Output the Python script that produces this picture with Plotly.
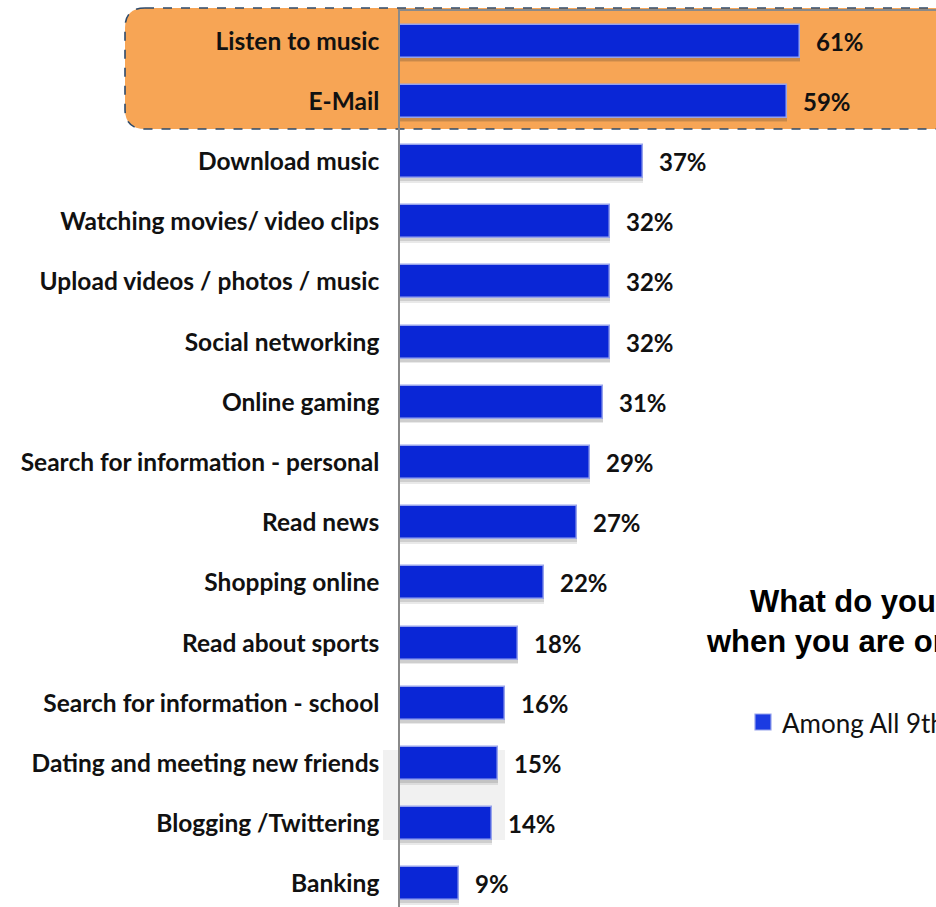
import plotly.graph_objects as go

# Survey results: share of respondents doing each activity online
activities = [
    "Listen to music",
    "E-Mail",
    "Download music",
    "Watching movies/ video clips",
    "Upload videos / photos / music",
    "Social networking",
    "Online gaming",
    "Search for information - personal",
    "Read news",
    "Shopping online",
    "Read about sports",
    "Search for information - school",
    "Dating and meeting new friends",
    "Blogging /Twittering",
    "Banking",
]
shares = [61, 59, 37, 32, 32, 32, 31, 29, 27, 22, 18, 16, 15, 14, 9]
series_name = "Among All 9th Graders"
title_lines = ["What do you do", "when you are online?"]

W, H = 936, 907
ML, MT = 400, 11
PW, PH = W - ML, H - MT           # plot area in pixels
PX_PER_PCT = 6.56
ROW_PX = 60.2
BAR_W = 0.55
BAR_COLOR = "#0A26D6"
BAR_EDGE = "#97A3EC"

rows = list(range(len(activities)))


def px(x):  # pixel x -> paper x
    return (x - ML) / PW


def py(y):  # pixel y -> paper y
    return (H - y) / PH


fig = go.Figure()

# soft drop shadow under each bar
for dy, alpha in [(0.075, 0.10), (0.05, 0.14)]:
    fig.add_trace(go.Bar(
        y=rows, x=shares, orientation="h",
        width=BAR_W, offset=-BAR_W / 2 + dy,
        marker=dict(color=f"rgba(40,40,40,{alpha})", line=dict(width=0)),
        showlegend=False, hoverinfo="skip",
    ))
fig.add_trace(go.Bar(
    y=rows, x=shares, orientation="h",
    width=BAR_W, offset=-BAR_W / 2,
    name=series_name, showlegend=False,
    marker=dict(color=BAR_COLOR, line=dict(color=BAR_EDGE, width=1.5)),
    hovertemplate="%{x}%<extra></extra>",
))

annotations = []
for r, v in zip(rows, shares):
    annotations.append(dict(
        x=v, y=r, xref="x", yref="y", text=f"{v}%", showarrow=False,
        xanchor="left", yanchor="middle", xshift=14,
        font=dict(family="Lato", size=24, color="#111111", weight="bold"),
    ))

title_pos = [(748, 601), (704, 641)]
for line, (tx, ty) in zip(title_lines, title_pos):
    annotations.append(dict(
        x=px(tx), y=py(ty), xref="paper", yref="paper", text=f"<b>{line}</b>",
        showarrow=False, xanchor="left", yanchor="middle",
        font=dict(family="Liberation Sans", size=31, color="#000000"),
    ))

# legend entry for the single series
annotations.append(dict(
    x=px(780), y=py(723), xref="paper", yref="paper", text=series_name,
    showarrow=False, xanchor="left", yanchor="middle",
    font=dict(family="Lato", size=26, color="#111111"),
))


def rounded_box(x0, y0, x1, y1, r):
    rx, ry = r / PW, r / PH
    X0, X1 = px(x0), px(x1)
    Y0, Y1 = py(y0), py(y1)   # Y0 top, Y1 bottom
    return (f"M {X0 + rx},{Y0} L {X1 - rx},{Y0} Q {X1},{Y0} {X1},{Y0 - ry} "
            f"L {X1},{Y1 + ry} Q {X1},{Y1} {X1 - rx},{Y1} "
            f"L {X0 + rx},{Y1} Q {X0},{Y1} {X0},{Y1 + ry} "
            f"L {X0},{Y0 - ry} Q {X0},{Y0} {X0 + rx},{Y0} Z")


shapes = [
    dict(type="path", path=rounded_box(125, 8, 960, 129, 20),
         xref="paper", yref="paper", layer="below",
         fillcolor="#F7A555", line=dict(color="#2D4A6B", width=1.6, dash="dash")),
    dict(type="rect", xref="paper", yref="paper", layer="below",
         x0=px(383), x1=px(505), y0=py(840), y1=py(750),
         fillcolor="#F1F1F1", line=dict(width=0)),
    dict(type="rect", xref="paper", yref="paper",
         x0=px(755), x1=px(771), y0=py(730), y1=py(714),
         fillcolor="#1B3BE2", line=dict(color=BAR_EDGE, width=1.2)),
]

fig.update_layout(
    width=W, height=H,
    margin=dict(l=ML, r=0, t=MT, b=0),
    paper_bgcolor="white", plot_bgcolor="rgba(0,0,0,0)",
    barmode="overlay",
    bargap=0,
    annotations=annotations,
    shapes=shapes,
    showlegend=False,
    xaxis=dict(
        range=[0, PW / PX_PER_PCT], side="top",
        showgrid=False, zeroline=False, showticklabels=False,
        showline=True, linecolor="#8A8A8A", linewidth=1.5, ticks="",
    ),
    yaxis=dict(
        range=[-0.5 + PH / ROW_PX, -0.5],
        tickmode="array", tickvals=rows, ticktext=activities,
        tickfont=dict(family="Lato", size=24.5, color="#111111", weight="bold"),
        ticks="outside", ticklen=14, tickcolor="rgba(0,0,0,0)",
        showgrid=False, zeroline=False,
        showline=True, linecolor="#8A8A8A", linewidth=1.5,
    ),
)

fig.write_html("out.html")
